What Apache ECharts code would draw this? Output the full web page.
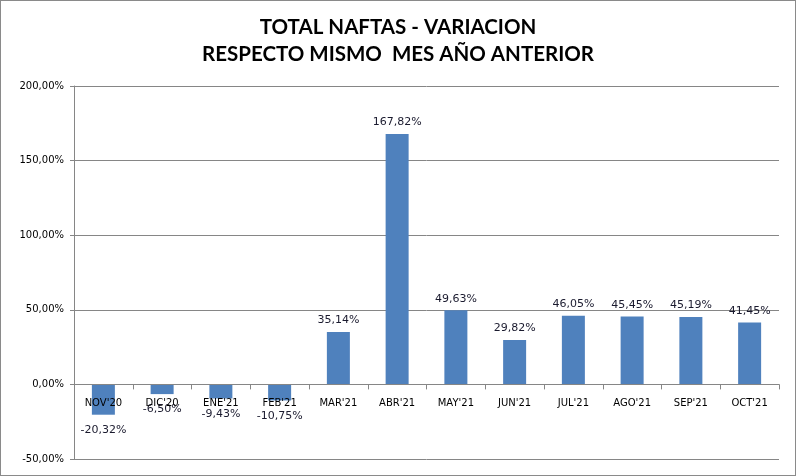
<!DOCTYPE html>
<html><head><meta charset="utf-8">
<script src="https://cdn.jsdelivr.net/npm/echarts@6/dist/echarts.min.js"></script>
<style>html,body{margin:0;padding:0;background:#fff}#wrap{position:relative;width:796px;height:476px}#c{position:absolute;left:0;top:0;width:796px;height:476px}#b{position:absolute;left:0;top:0;width:796px;height:476px;box-sizing:border-box;border:1px solid #8a8a8a;pointer-events:none}</style>
</head><body><div id="wrap"><div id="c"></div><div id="b"></div></div>
<script>
const categories = ["NOV'20","DIC'20","ENE'21","FEB'21","MAR'21","ABR'21","MAY'21","JUN'21","JUL'21","AGO'21","SEP'21","OCT'21"];
const values = [-20.32,-6.50,-9.43,-10.75,35.14,167.82,49.63,29.82,46.05,45.45,45.19,41.45];
const titleLines = ["TOTAL NAFTAS - VARIACION","RESPECTO MISMO  MES AÑO ANTERIOR"];
const fmt = v => v.toFixed(2).replace('.', ',') + '%';
const gridTop = 86, gridBottom = 17, H = 476;
const yMin = -50, yMax = 200;
const plotH = H - gridTop - gridBottom;
const zeroOffset = plotH * (0 - yMin) / (yMax - yMin);
const chart = echarts.init(document.getElementById('c'), null, {renderer:'canvas'});
chart.setOption({
  animation:false,
  title:{text:titleLines.join('\n'),left:'center',top:9,
    textStyle:{fontFamily:'Lato',fontWeight:'bold',fontSize:20.5,color:'#000',lineHeight:27}},
  grid:{left:74,right:17,top:gridTop,bottom:gridBottom,containLabel:false,outerBoundsMode:'none'},
  xAxis:{type:'category',data:categories,position:'bottom',offset:-zeroOffset,z:5,
    axisLine:{onZero:false,lineStyle:{color:'#868686',width:1}},
    axisTick:{show:true,length:5,lineStyle:{color:'#868686'}},
    axisLabel:{color:'#000',fontFamily:'Verdana, DejaVu Sans',fontSize:10,margin:14},
    splitLine:{show:false}},
  yAxis:{type:'value',min:yMin,max:yMax,interval:50,
    axisLine:{show:true,lineStyle:{color:'#868686'}},
    axisTick:{show:true,length:4,lineStyle:{color:'#868686'}},
    axisLabel:{color:'#000',fontFamily:'Verdana, DejaVu Sans',fontSize:10,margin:10,formatter:v=>fmt(v)},
    splitLine:{lineStyle:{color:'#868686',width:1}}},
  series:[{type:'bar',barWidth:23,z:2,
    data:values.map(v=>({value:v,label:{position:v<0?'bottom':'top',distance:v<0?10:6}})),
    itemStyle:{color:'#4f81bd'},
    label:{show:true,color:'#1a1a2e',fontFamily:'Verdana, DejaVu Sans',fontSize:11,formatter:p=>fmt(p.value)}
  }]
});
</script></body></html>
